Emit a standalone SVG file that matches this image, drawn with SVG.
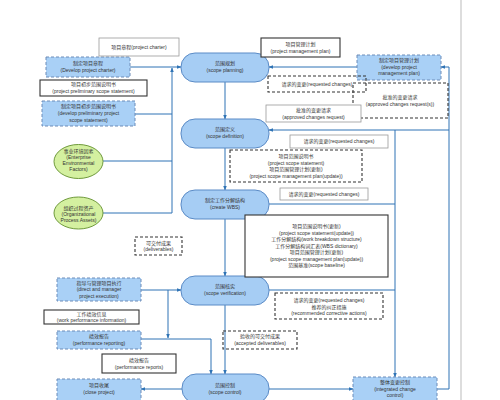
<svg xmlns="http://www.w3.org/2000/svg" width="500" height="400" viewBox="0 0 500 400">
<style>
text{font-family:"Liberation Sans","Noto Sans CJK SC",sans-serif;font-size:5px;fill:#333;text-anchor:middle}
.proc{fill:#a6cdf4;stroke:#5b8bc6;stroke-width:1}
.act{fill:#a9d0f6;stroke:#6c8cb8;stroke-width:1;stroke-dasharray:3,2}
.env{fill:#d4f0a0;stroke:#6f9a3c;stroke-width:1}
.dk{fill:#fff;stroke:#333;stroke-width:1.1}
.lt{fill:#fff;stroke:#999;stroke-width:0.8}
.dash{fill:none;stroke:#333;stroke-width:1.1;stroke-dasharray:3,2}
.c{fill:none;stroke:#2f73b5;stroke-width:1}
.ca{fill:none;stroke:#2f73b5;stroke-width:1;marker-end:url(#ah)}
</style>
<defs>
<marker id="ah" viewBox="0 0 10 10" refX="9" refY="5" markerWidth="4.5" markerHeight="4.5" orient="auto" markerUnits="userSpaceOnUse">
<path d="M0,1 L10,5 L0,9 z" fill="#2f73b5"/>
</marker>
</defs>
<rect width="500" height="400" fill="#fff"/>
<line x1="461" y1="0" x2="461" y2="400" stroke="#bbb" stroke-width="1"/>

<g id="connectors">
<path class="ca" d="M130,67 H181"/>
<path class="c" d="M135,114 H172"/>
<path class="c" d="M103,161 H172"/>
<path class="c" d="M103,213 H172"/>
<path class="ca" d="M172,213 V68"/>
<path class="ca" d="M225,82 V119"/>
<path class="ca" d="M225,148 V190"/>
<path class="ca" d="M225,219 V276"/>
<path class="ca" d="M225,305 V374"/>
<path class="ca" d="M357,67 H269"/>
<path class="ca" d="M437,389 H449 V67 H441"/>
<path class="ca" d="M449,130 H269"/>
<path class="c" d="M269,204 H395"/>
<path class="c" d="M269,290 H395"/>
<path class="ca" d="M395,130 V377"/>
<path class="ca" d="M269,389 H353"/>
<path class="ca" d="M182,389 H141"/>
<path class="ca" d="M141,290 H181"/>
<path class="ca" d="M168,290 V338"/>
<path class="ca" d="M141,339 H211 V374"/>
</g>

<g id="scope-planning"><rect class="proc" x="181" y="53" width="88" height="29" rx="14"/><text x="225" y="65">范围规划</text><text x="225" y="72">(scope planning)</text></g>
<g id="scope-definition"><rect class="proc" x="181" y="119" width="88" height="29" rx="14"/><text x="225" y="131">范围定义</text><text x="225" y="138">(scope definition)</text></g>
<g id="create-wbs"><rect class="proc" x="181" y="190" width="88" height="29" rx="14"/><text x="225" y="202">制定工作分解结构</text><text x="225" y="209">(create WBS)</text></g>
<g id="scope-verification"><rect class="proc" x="181" y="276" width="88" height="29" rx="14"/><text x="225" y="288">范围核实</text><text x="225" y="295">(scope verification)</text></g>
<g id="scope-control"><rect class="proc" x="182" y="374" width="87" height="29" rx="14"/><text x="225" y="387">范围控制</text><text x="225" y="394">(scope control)</text></g>

<g id="develop-charter"><rect class="act" x="46" y="57" width="84" height="20"/><text x="88" y="65">制定项目章程</text><text x="88" y="72">(Develop project charter)</text></g>
<g id="develop-prelim"><rect class="act" x="42" y="101" width="93" height="25"/><text x="88.5" y="108">制定项目初步范围说明书</text><text x="88.5" y="115">(develop preliminary project</text><text x="88.5" y="121.5">scope statement)</text></g>
<g id="develop-pm-plan"><rect class="act" x="357" y="55" width="84" height="25"/><text x="399" y="62">制定项目管理计划</text><text x="399" y="68.5">(develop project</text><text x="399" y="75">management plan)</text></g>
<g id="direct-manage"><rect class="act" x="57" y="278" width="84" height="23"/><text x="99" y="284.5">指导与管理项目执行</text><text x="99" y="291">(direct and manager</text><text x="99" y="297.5">project execution)</text></g>
<g id="performance-reporting"><rect class="act" x="57" y="331" width="84" height="18"/><text x="99" y="338">绩效报告</text><text x="99" y="344.5">(performance reporting)</text></g>
<g id="close-project"><rect class="act" x="57" y="379" width="84" height="22"/><text x="99" y="387">项目收尾</text><text x="99" y="394">(close project)</text></g>
<g id="integrated-change-control"><rect class="act" x="353" y="377" width="84" height="26"/><text x="395" y="384">整体变更控制</text><text x="395" y="390.5">(integrated change</text><text x="395" y="397">control)</text></g>

<g id="enterprise-factors"><ellipse class="env" cx="78.5" cy="161.5" rx="24.5" ry="17"/><text x="78.5" y="153">事业环境因素</text><text x="78.5" y="159">(Enterprise</text><text x="78.5" y="165">Environmental</text><text x="78.5" y="171">Factors)</text></g>
<g id="org-process-assets"><ellipse class="env" cx="78.5" cy="213" rx="24.5" ry="16"/><text x="78.5" y="210">组织过程资产</text><text x="78.5" y="216">(Organizational</text><text x="78.5" y="222">Process Assets)</text></g>

<g id="project-charter"><rect class="lt" x="99" y="38" width="80" height="18"/><text x="139" y="48.5">项目章程(project charter)</text></g>
<g id="prelim-scope-statement"><rect class="dk" x="40" y="80" width="107" height="16"/><text x="93.5" y="86">项目初步范围说明书</text><text x="93.5" y="93">(project preliminary scope statement)</text></g>
<g id="pm-plan"><rect class="dk" x="261" y="38" width="79" height="19"/><text x="300.5" y="46">项目管理计划</text><text x="300.5" y="53">(project management plan)</text></g>
<g id="req-changes-1"><rect class="dash" x="268" y="76" width="98" height="16"/><text x="317" y="85.5">请求的变更(requested changes)</text></g>
<g id="approved-changes-2"><rect class="dash" x="353" y="83" width="95" height="35"/><text x="400" y="99">批准的变更请求</text><text x="400" y="106">(approved changes request(s))</text></g>
<g id="approved-changes-1"><rect class="lt" x="266" y="105" width="95" height="17"/><text x="313.5" y="112">批准的变更请求</text><text x="313.5" y="119">(approved changes request)</text></g>
<g id="req-changes-2"><rect class="lt" x="290" y="135" width="98" height="13"/><text x="339" y="143">请求的变更(requested changes)</text></g>
<g id="scope-statement-update"><rect class="dash" x="230" y="150" width="132" height="32"/><text x="296" y="158">项目范围说明书</text><text x="296" y="164.5">(project scope statement)</text><text x="296" y="171">项目范围管理计划(更新)</text><text x="296" y="177.5">(project scope management plan(update))</text></g>
<g id="req-changes-3"><rect class="lt" x="280" y="188" width="88" height="12"/><text x="324" y="195.5">请求的变更(requested changes)</text></g>
<g id="wbs-outputs"><rect class="dk" x="245" y="215" width="143" height="62"/><text x="316.5" y="228">项目范围说明书(更新)</text><text x="316.5" y="234.5">(project scope statement(update))</text><text x="316.5" y="241">工作分解结构(work breakdown structure)</text><text x="316.5" y="247.5">工作分解结构词汇表(WBS dictionary)</text><text x="316.5" y="254">项目范围管理计划(更新)</text><text x="316.5" y="260.5">(project scope management plan(update))</text><text x="316.5" y="267">范围基准(scope baseline)</text></g>
<g id="deliverables"><rect class="dash" x="135" y="237" width="47" height="18"/><text x="158.5" y="244.5">可交付成果</text><text x="158.5" y="251">(deliverables)</text></g>
<g id="work-perf-info"><rect class="dk" x="44" y="310" width="95" height="14"/><text x="91.5" y="315.5">工作绩效信息</text><text x="91.5" y="321.5">(work performance information)</text></g>
<g id="req-corrective"><rect class="dash" x="275" y="293" width="108" height="26"/><text x="329" y="302">请求的变更(requested changes)</text><text x="329" y="308.5">推荐的纠正措施</text><text x="329" y="315">(recommended corrective actions)</text></g>
<g id="accepted-deliverables"><rect class="dash" x="223" y="331" width="74" height="18"/><text x="260" y="338">验收的可交付成果</text><text x="260" y="344.5">(accepted deliverables)</text></g>
<g id="performance-reports"><rect class="dk" x="102" y="354" width="74" height="19"/><text x="139" y="362">绩效报告</text><text x="139" y="368.5">(performance reports)</text></g>
</svg>
